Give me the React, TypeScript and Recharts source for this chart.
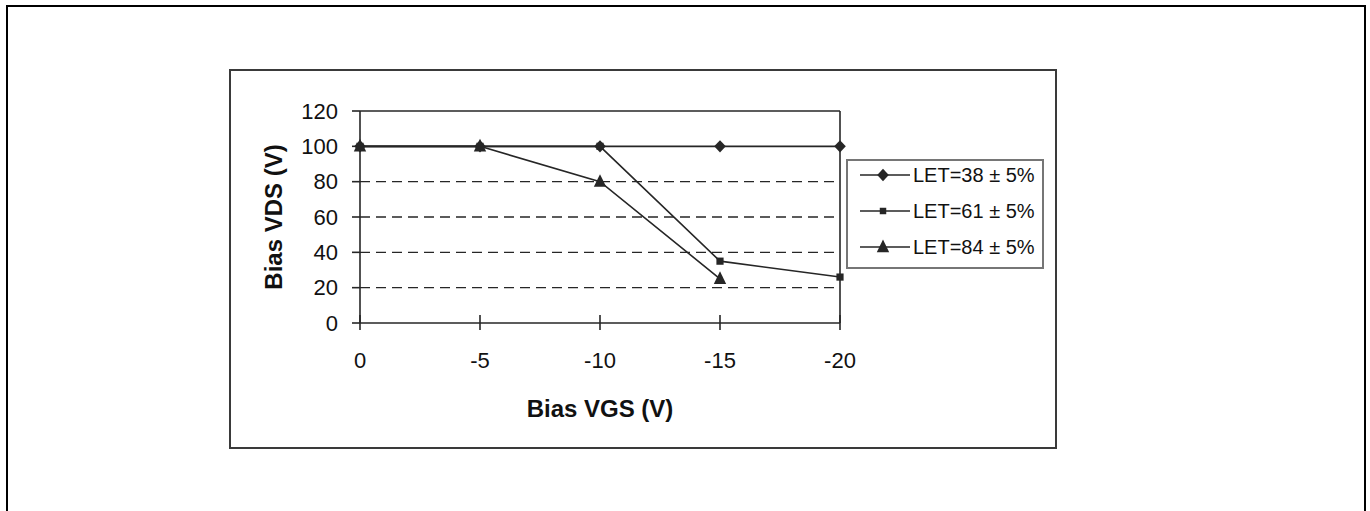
import React from 'react';
import {
  LineChart,
  Line,
  XAxis,
  YAxis,
  CartesianGrid,
  ReferenceLine,
  Legend,
  Label,
} from 'recharts';

// Gate bias values (V)
const vgs = [0, -5, -10, -15, -20];
// Drain bias (V) for each LET level
const let38 = [100, 100, 100, 100, 100];
const let61 = [100, 100, 100, 35, 26];
const let84 = [100, 100, 80, 25, null];

const xTicks = [0, -5, -10, -15, -20];
const yTicks = [0, 20, 40, 60, 80, 100, 120];
const gridValues = [20, 40, 60, 80];

const seriesNames = ['LET=38 ± 5%', 'LET=61 ± 5%', 'LET=84 ± 5%'];
const seriesKeys = ['s38', 's61', 's84'];
const seriesMarkers = ['diamond', 'square', 'triangle'];

const data = vgs.map((v, i) => ({
  vgs: v,
  s38: let38[i],
  s61: let61[i],
  s84: let84[i],
}));

const FONT = '"Liberation Sans", Arial, Helvetica, sans-serif';
const INK = '#262626';
const TEXT = '#111';

type MarkerKind = 'diamond' | 'square' | 'triangle';

function markerPath(kind: MarkerKind, cx: number, cy: number, s = 1): string {
  if (kind === 'diamond') {
    const w = 5.8 * s;
    const h = 6.2 * s;
    return `M${cx},${cy - h} L${cx + w},${cy} L${cx},${cy + h} L${cx - w},${cy} Z`;
  }
  if (kind === 'square') {
    const a = 3.6 * s;
    return `M${cx - a},${cy - a} L${cx + a},${cy - a} L${cx + a},${cy + a} L${cx - a},${cy + a} Z`;
  }
  const w = 6.2 * s;
  return `M${cx},${cy - 7.5 * s} L${cx + w},${cy + 5.2 * s} L${cx - w},${cy + 5.2 * s} Z`;
}

const makeDot = (kind: MarkerKind) => (p: any) => {
  const key = `${kind}-${p.index}`;
  if (p.cx == null || p.cy == null || p.value == null) return <g key={key} />;
  return <path key={key} d={markerPath(kind, p.cx, p.cy)} fill={INK} stroke="none" />;
};

const XTick = (props: any) => {
  const { x, y, payload } = props;
  return (
    <g>
      <line x1={x} x2={x} y1={y - 8} y2={y + 7} stroke={INK} strokeWidth={1.6} />
      <text
        x={x}
        y={y + 45}
        textAnchor="middle"
        fontFamily={FONT}
        fontSize={22}
        fill={TEXT}
      >
        {payload.value}
      </text>
    </g>
  );
};

const YTitle = (props: any) => {
  const vb = props.viewBox || {};
  const cx = vb.x + 18;
  const cy = vb.y + vb.height / 2;
  return (
    <text
      x={cx}
      y={cy}
      transform={`rotate(-90 ${cx} ${cy})`}
      textAnchor="middle"
      dominantBaseline="central"
      fontFamily={FONT}
      fontSize={24}
      fontWeight="bold"
      fill={TEXT}
    >
      Bias VDS (V)
    </text>
  );
};

const XTitle = (props: any) => {
  const vb = props.viewBox || {};
  const cx = vb.x + vb.width / 2;
  const cy = vb.y + 85;
  return (
    <text
      x={cx}
      y={cy}
      textAnchor="middle"
      dominantBaseline="central"
      fontFamily={FONT}
      fontSize={24}
      fontWeight="bold"
      fill={TEXT}
    >
      Bias VGS (V)
    </text>
  );
};

const LegendBox = (props: any) => {
  const payload: any[] = props.payload || [];
  return (
    <div
      style={{
        width: 198,
        height: 110,
        boxSizing: 'border-box',
        border: '2px solid #767676',
        background: '#fff',
        position: 'relative',
        fontFamily: FONT,
      }}
    >
      {payload.map((entry: any, i: number) => {
        const idx = seriesKeys.indexOf(entry.dataKey);
        const kind = seriesMarkers[idx] as MarkerKind;
        return (
          <div
            key={entry.dataKey}
            style={{
              position: 'absolute',
              left: 12,
              top: 14 + i * 36 - 12,
              height: 24,
              display: 'flex',
              alignItems: 'center',
              whiteSpace: 'nowrap',
            }}
          >
            <svg width={53} height={24} style={{ display: 'block' }}>
              <line x1={0} x2={50} y1={12} y2={12} stroke={INK} strokeWidth={1.6} />
              <path d={markerPath(kind, 23, 12, kind === 'square' ? 0.9 : 1)} fill={INK} />
            </svg>
            <span style={{ fontSize: 20, color: TEXT, lineHeight: '24px' }}>{entry.value}</span>
          </div>
        );
      })}
    </div>
  );
};

export default function App() {
  return (
    <div
      style={{
        position: 'absolute',
        left: 0,
        top: 0,
        width: 1370,
        height: 511,
        background: '#fff',
        overflow: 'hidden',
      }}
    >
      {/* page frame */}
      <div
        style={{
          position: 'absolute',
          left: 6,
          top: 5,
          width: 1360,
          height: 600,
          boxSizing: 'border-box',
          border: '2px solid #000',
        }}
      />
      {/* chart area frame */}
      <div
        style={{
          position: 'absolute',
          left: 229,
          top: 69,
          width: 828,
          height: 380,
          boxSizing: 'border-box',
          border: '2px solid #3a3a3a',
        }}
      />
      <LineChart
        width={1370}
        height={511}
        data={data}
        margin={{ top: 111, right: 530, bottom: 88, left: 255 }}
        style={{ position: 'absolute', left: 0, top: 0 }}
      >
        <CartesianGrid
          vertical={false}
          horizontalValues={gridValues}
          stroke={INK}
          strokeWidth={1.4}
          strokeDasharray="10 6"
        />
        <ReferenceLine y={120} stroke={INK} strokeWidth={1.6} />
        <ReferenceLine x={-20} stroke={INK} strokeWidth={1.6} />
        <XAxis
          dataKey="vgs"
          type="number"
          domain={[-20, 0]}
          reversed
          ticks={xTicks}
          interval={0}
          height={100}
          tickSize={0}
          tickMargin={0}
          tickLine={false}
          axisLine={{ stroke: INK, strokeWidth: 1.6 }}
          tick={<XTick />}
        >
          <Label content={<XTitle />} />
        </XAxis>
        <YAxis
          type="number"
          domain={[0, 120]}
          ticks={yTicks}
          interval={0}
          width={105}
          tickSize={8}
          tickMargin={14}
          tickLine={{ stroke: INK, strokeWidth: 1.6 }}
          axisLine={{ stroke: INK, strokeWidth: 1.6 }}
          tick={{ fontFamily: FONT, fontSize: 22, fill: TEXT }}
        >
          <Label content={<YTitle />} />
        </YAxis>
        <Legend
          layout="vertical"
          align="center"
          verticalAlign="middle"
          content={<LegendBox />}
          wrapperStyle={{ left: 846, top: 159, width: 198, height: 110 }}
        />
        <Line
          dataKey="s38"
          name={seriesNames[0]}
          type="linear"
          stroke={INK}
          strokeWidth={1.6}
          dot={makeDot('diamond')}
          activeDot={false}
          isAnimationActive={false}
        />
        <Line
          dataKey="s61"
          name={seriesNames[1]}
          type="linear"
          stroke={INK}
          strokeWidth={1.6}
          dot={makeDot('square')}
          activeDot={false}
          isAnimationActive={false}
        />
        <Line
          dataKey="s84"
          name={seriesNames[2]}
          type="linear"
          stroke={INK}
          strokeWidth={1.6}
          dot={makeDot('triangle')}
          activeDot={false}
          isAnimationActive={false}
        />
      </LineChart>
    </div>
  );
}
